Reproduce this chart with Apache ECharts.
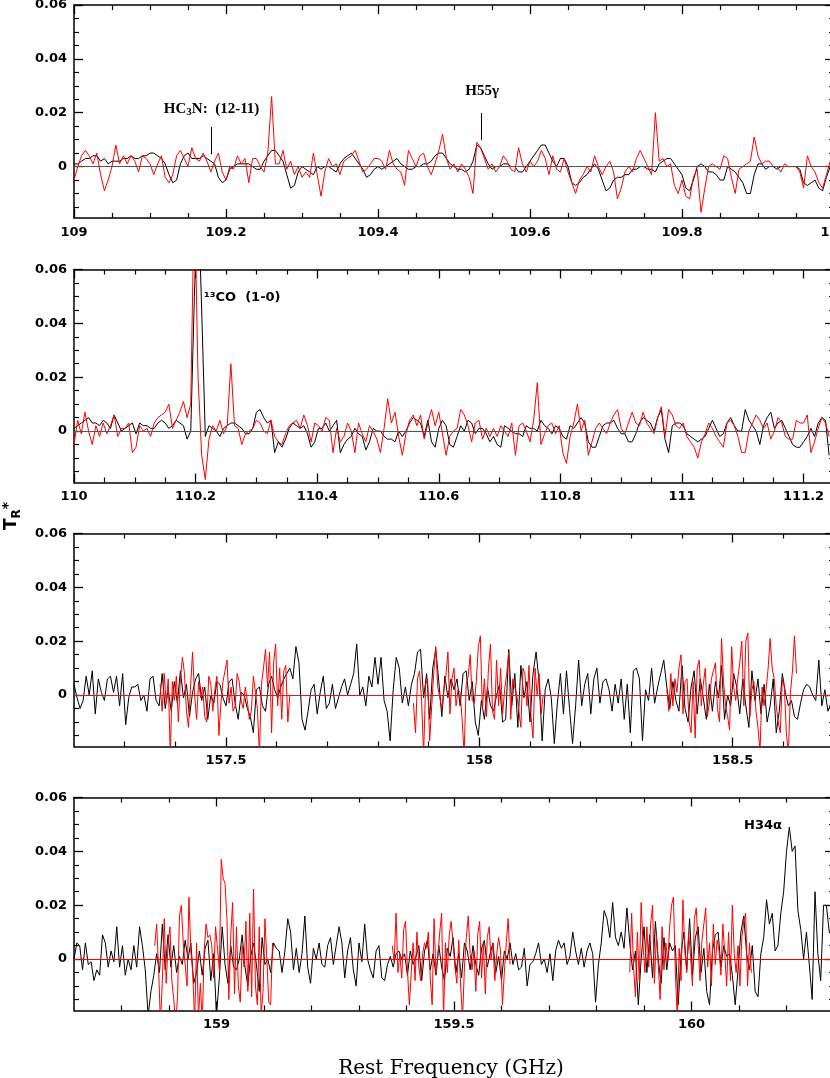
<!DOCTYPE html>
<html><head><meta charset="utf-8">
<script src="https://cdn.jsdelivr.net/npm/echarts@6.0.0/dist/echarts.min.js"></script>
<style>html,body{margin:0;padding:0;background:#fff}#c{width:830px;height:1078px}</style>
</head><body><div id="c"></div>
<script>
// ---- data (T_R* in mK; axis labels shown in K) ----
const p1Start = 109.0, p1Step = 0.005;
const p1Black = [1,1,2,3,3,4,4,2,3,1, 2,2,2,3,3,4,3,3,4,4, 5,5,4,3,1,-3,-6,-5,1,4, 5,3,3,3,4,3,2,1,-4,-6,
 -5,-1,0,1,1,1,1,0,-1,-1, 2,4,6,6,4,2,-3,-8,-7,-2, 0,-1,-2,-3,0,-1,0,0,-1,-2, 1,3,4,5,3,1,-1,-4,-3,-1,
 0,-1,0,1,2,3,1,0,-1,-1, 0,0,1,1,2,4,5,5,3,1, 0,-1,-1,-2,-1,2,8,7,4,1, -1,0,0,1,1,0,0,-2,-2,0,
 2,4,6,8,8,5,2,0,3,3, 0,-6,-7,-6,-4,-3,-1,1,-1,-5, -9,-8,-5,-4,-4,-3,-3,-1,-1,0, 0,-1,-1,-2,1,2,3,3,1,-1,
 -3,-8,-9,-5,0,1,0,-2,-2,-3, -5,-5,0,-1,-2,-4,-6,-10,-10,-3, 1,1,-1,0,0,-1,0,0,0,0, 0,-1,-6,-7,-6,-5,-8,-9,-4,0, 1];
const p1Red = [-5,0,4,6,4,1,5,-3,-9,-5, 0,8,1,4,1,4,2,-2,4,3, 1,-3,1,4,-4,-6,-3,4,6,3, 0,7,3,2,5,2,-2,2,5,-2,
 -5,0,-1,4,1,3,-6,3,3,0, -2,5,26,1,1,6,-1,2,-3,0, -4,-2,-4,5,-3,-11,-2,3,0,1, -3,2,3,4,6,2,-2,-1,1,3,
 3,2,-1,6,1,-1,-2,-7,6,3, 0,4,5,0,-3,1,6,12,3,-1, 1,-2,1,-1,-4,-10,9,7,3,-1, 1,-2,0,4,2,-1,-2,7,1,-2,
 2,0,2,6,3,-3,4,-1,-2,3, -2,-6,-10,-5,-3,0,-2,4,0,-3, 0,2,-2,-12,-8,-2,0,-2,3,6, 3,0,-3,20,2,3,0,1,-7,-10,
 -5,-11,-12,-4,-1,-17,-8,0,1,0, -1,4,3,-4,-10,-1,0,1,2,11, 4,1,2,2,0,0,-2,1,0,0, 0,-2,-8,4,0,-2,-6,-8,-3,2, 2];

const p2Start = 110.0, p2Step = 0.006;
const p2Black = [1,2,3,4,5,3,3,2,4,3, 1,6,3,0,1,2,3,-1,3,2, 2,1,1,3,4,3,1,2,4,3, 2,-3,0,50,90,45,-2,2,1,0,
 -2,1,2,3,3,2,1,-1,-1,1, 7,8,5,3,4,-8,-4,-6,-3,1, 3,2,1,2,-1,-6,-4,1,1,3, 0,2,4,-8,-5,-3,-2,1,-1,-2,
 -7,-4,1,0,0,-2,-3,-3,-4,0, -2,0,3,5,4,3,-2,4,-4,-6, 1,4,2,-5,-6,-2,2,0,4,3, -1,1,1,-1,-4,-2,-5,-6,2,1,
 0,-1,-1,-2,2,1,1,0,4,2, 1,-1,2,1,-2,-3,2,1,3,5, 3,-4,-6,-6,-2,2,3,3,4,1, -1,-1,-4,-4,-1,3,5,4,3,0,
 5,8,-3,-8,2,3,3,2,-1,-2, -3,-4,-3,-2,1,4,1,-2,-1,3, 5,2,0,0,8,4,2,0,-5,2, 5,7,1,3,4,1,-2,-5,-6,-6,
 -4,-2,1,-2,3,5,4,-9];
const p2Red = [-5,4,-1,7,0,-5,2,-2,3,-1, 2,6,-2,1,1,3,-8,-6,2,0, 1,-2,3,5,6,7,10,1,4,7, 11,5,10,90,20,-9,-18,-3,2,0,
 4,-1,2,25,2,1,-5,-1,0,1, 4,3,0,-1,4,-2,-4,-5,-1,2, 3,4,1,6,2,-4,3,2,0,5, 4,-8,1,-4,-2,3,0,-8,3,-1,
 -4,2,0,-3,-8,1,12,3,7,-2, -9,-1,4,6,2,6,-3,3,8,2, 7,-1,-9,-2,0,1,8,6,2,-4, 3,4,-3,1,-2,1,-2,2,0,-2,
 3,-9,2,3,0,-4,4,18,-5,-1, 2,3,-1,2,-8,-12,-2,3,10,0, 4,-9,-4,1,3,1,-1,3,6,8, 1,-1,3,7,3,2,7,3,1,-1,
 5,9,-2,8,6,2,1,3,-2,-4, -6,-10,-4,-1,3,1,-2,-4,-6,3, 4,2,-2,-8,-8,0,3,6,4,1, 3,-3,0,5,3,-2,-3,-3,4,3,
 3,6,-8,-4,1,5,3,-2];

const p3Start = 157.2, p3Step = 0.006;
const p3Black = [4,-1,-5,-2,7,0,9,-7,6,1, -2,6,7,1,7,-4,8,-11,-1,3, 3,4,-2,0,-6,6,7,-2,-4,8, -5,2,-6,5,-3,9,-1,4,-8,1,
 6,8,-2,3,-9,0,-3,5,4,-1, -4,5,6,-3,-9,1,0,-5,-8,-14, 2,3,-4,-6,4,7,2,-1,3,6, 8,10,6,18,12,-9,-13,-6,2,4,
 -7,1,7,-5,-3,4,-5,-1,3,6, 0,4,8,19,0,3,-4,7,3,14, 4,14,-2,-6,-17,2,14,10,-3,3, -4,4,8,16,17,-1,8,-9,10,17,
 5,-8,7,-1,6,2,6,-4,8,9, -2,5,-10,-15,-2,-9,3,-4,-6,0, 4,-10,-9,17,-4,8,-12,11,-1,5, -10,8,16,5,-17,2,6,-1,-18,-3,
 8,-7,9,-5,-18,-4,13,-4,4,8, -7,6,10,-3,5,6,2,-6,4,-3, 6,-9,4,-14,9,10,6,-17,2,-2, 10,-3,3,8,13,3,-5,5,-2,-6,
 11,-5,-10,3,9,-7,6,-1,-9,4, -6,5,-1,11,-9,0,-4,8,3,-7, 6,-4,-12,9,-2,6,-7,4,-10,-4, 6,-14,-6,8,1,-4,-2,-8,-9,-3,
 2,4,3,0,-2,13,-4,2,-6,-3];
const p3RedStarts = [157.37, 157.87, 158.37], p3RedStep = 0.004;
const p3RedA = [4,-6,8,-3,6,-22,5,-2,7,-10, 6,14,8,-6,-12,3,16,0,-9,5, -1,3,-8,-10,7,4,-6,2,7,-15,
 -3,5,9,13,-3,3,-6,-4,8,5, -2,-5,3,-2,-9,-6,7,1,-5,-22, 4,10,17,3,16,-14,12,19,-4,10, -9,9,11,-10,0];
const p3RedB = [-3,-14,6,9,-2,-22,4,6,-17,-4, 8,18,3,-1,-5,2,7,16,-7,6, 10,-4,2,1,-9,-22,4,7,15,-2,
 -3,5,18,22,-5,6,-8,10,19,-6, -9,13,-4,10,-7,2,8,16,-9,6, 3,0,-6,-12,10,8,-4,11,-8,-16, 10,0,8,-7,0];
const p3RedC = [2,-6,8,-4,6,1,10,15,-7,5, 6,-10,-14,5,-16,10,13,-4,4,10, -8,-3,6,9,12,-5,-10,21,5,-4,
 -8,-13,18,3,-2,6,12,20,-4,20, 23,-8,2,5,-6,-12,-21,3,-4,2, 10,21,10,6,-4,-10,-14,6,3,-14, -22,1,9,22,8];

const p4Start = 158.7, p4Step = 0.006;
const p4Black = [0,6,5,-4,6,-2,-1,-8,-4,-6, 9,6,-3,3,-1,12,-3,5,-6,0, -4,5,-3,12,5,-4,-21,-12,-6,2, -5,13,-4,9,-3,5,-5,1,-2,7,
 0,6,-9,-5,3,-6,4,7,-8,2, -21,-7,12,-2,-9,5,-3,-4,0,9, -3,-10,1,6,-2,-12,8,-2,0,-5, 6,4,3,-5,3,15,10,-4,4,-5,
 2,16,-3,-9,4,0,6,-2,-3,5, 8,-2,5,12,6,-7,3,8,-4,-10, 6,-1,13,0,-4,-7,3,5,-7,-8, -2,1,-3,2,3,0,2,-6,3,-2,
 1,5,-8,3,7,-4,2,-6,5,-3, -8,4,1,8,-5,2,-7,6,3,-4, 5,-2,-6,4,7,-3,2,6,-5,1, -8,3,0,6,-2,2,-4,-3,4,-10,
 -2,-1,2,6,-2,0,-5,2,-8,3, 7,4,6,-2,1,10,3,-2,4,-3, 3,6,2,-16,-2,6,18,15,8,21, 8,5,10,4,19,6,-4,3,-17,0,
 12,-5,9,-7,14,0,-9,8,-4,6, 3,5,-17,2,10,-4,15,-6,8,12, -5,4,-12,-17,3,9,10,-3,5,1, 2,-6,-17,-4,10,16,2,-4,5,-12,
 -14,2,8,22,13,17,3,5,17,25, 40,49,40,42,18,11,0,10,-2,-15, 25,2,-8,20,20,10];
const p4RedStarts = [158.87, 159.37, 159.87], p4RedStep = 0.004;
const p4RedA = [5,13,-3,-24,-8,15,-9,5,12,-8, -15,-24,-14,16,20,6,-2,-10,23,3, -5,-24,6,-22,-9,-24,3,13,8,9,
 5,-7,12,12,-4,37,30,28,15,-15, 9,21,-13,12,-10,-16,5,-3,14,-12, 17,-14,26,-10,-17,12,-21,-12,15,0, -16,-17,6];
const p4RedB = [5,-1,17,-5,2,-7,11,14,-4,-17, -5,6,-8,10,-3,-8,2,6,4,10, -7,-17,15,-5,1,10,17,-22,6,-5,
 9,14,6,-3,-9,7,-10,-22,-3,8, 16,2,-4,3,-12,9,14,-7,6,-13, 8,12,0,6,-8,2,8,3,-17,-5, 6,15,-2];
const p4RedC = [-5,17,-3,-14,10,-8,21,5,-5,12, -3,13,20,-9,9,-2,-15,12,-4,6, -1,12,20,23,-5,-22,4,-8,22,3,
 -5,10,1,-10,15,19,5,-8,7,13, 19,-3,6,-10,13,-2,7,3,-6,13, 2,-10,10,-8,20,2,-5,5,-10,8, 14,17,-10,6,-5];

// ---- axes / ticks ----
const xRanges = [[109, 110], [110, 111.25], [157.2, 158.7], [158.7, 160.3]];
const xMajorTicks = [[109,109.2,109.4,109.6,109.8,110],[110,110.2,110.4,110.6,110.8,111,111.2],[157.5,158,158.5],[159,159.5,160]];
const xTickLabels = [['109','109.2','109.4','109.6','109.8','110'],['110','110.2','110.4','110.6','110.8','111','111.2'],['157.5','158','158.5'],['159','159.5','160']];
const xMinorTicks = [
 [109.05,109.1,109.15,109.25,109.3,109.35,109.45,109.5,109.55,109.65,109.7,109.75,109.85,109.9,109.95],
 [110.05,110.1,110.15,110.25,110.3,110.35,110.45,110.5,110.55,110.65,110.7,110.75,110.85,110.9,110.95,111.05,111.1,111.15],
 [157.3,157.4,157.6,157.7,157.8,157.9,158.1,158.2,158.3,158.4,158.6],
 [158.8,158.9,159.1,159.2,159.3,159.4,159.6,159.7,159.8,159.9,160.1,160.2]];
const yRange = [-19.1, 60];
const yMajorTicks = [0, 20, 40, 60];
const yTickLabels = ['0', '0.02', '0.04', '0.06'];
const yMinorTicks = [-15,-10,-5,5,10,15,25,30,35,45,50,55];

const annotations = [
  {grid: 0, x: 109.181, y: 21.4, kind: 'hc3n'},
  {grid: 0, x: 109.537, y: 27.9, text: 'H55\u03b3', font: 'serif'},
  {grid: 1, x: 110.214, y: 49.5, text: '\u00b9\u00b3CO  (1-0)', font: 'sans', left: true},
  {grid: 3, x: 160.1505, y: 49.7, text: 'H34\u03b1', font: 'sans'}
];
const lineMarkers = [[109.1803, 4.6, 14.7], [109.5355, 9.8, 19.9]];

// ---- layout ----
const gridTops = [5, 269.5, 533.5, 797.5];
const GRID_H = 213, GRID_L = 74, GRID_W = 760;

function pairs(start, step, vals) {
  return vals.map((v, i) => [Math.round((start + i * step) * 1e6) / 1e6, v]);
}
function lookup(list, labels, v) {
  for (let i = 0; i < list.length; i++) if (Math.abs(list[i] - v) < 1e-6) return labels[i];
  return '';
}
const labelFont = {color: '#000', fontFamily: 'DejaVu Sans', fontWeight: 'bold', fontSize: 13};

const grids = [], xAxes = [], yAxes = [], series = [];
for (let g = 0; g < 4; g++) {
  grids.push({left: GRID_L, top: gridTops[g], width: GRID_W, height: GRID_H, containLabel: false, outerBoundsMode: 'none'});
  const xb = {gridIndex: g, type: 'value', min: xRanges[g][0], max: xRanges[g][1], splitLine: {show: false}, axisPointer: {show: false}};
  const maj = xMajorTicks[g], mnr = xMinorTicks[g], lab = xTickLabels[g];
  ['bottom', 'top'].forEach(pos => {
    xAxes.push(Object.assign({}, xb, {position: pos,
      axisLine: {show: true, onZero: false, lineStyle: {color: '#000', width: 1.5}},
      axisTick: {show: true, inside: true, length: 9, customValues: maj, lineStyle: {color: '#000', width: 1.3}},
      axisLabel: pos === 'bottom' ? Object.assign({show: true, customValues: maj, margin: 8, formatter: v => lookup(maj, lab, v)}, labelFont) : {show: false}}));
    xAxes.push(Object.assign({}, xb, {position: pos,
      axisLine: {show: false, onZero: false},
      axisTick: {show: true, inside: true, length: 5, customValues: mnr, lineStyle: {color: '#000', width: 1.2}},
      axisLabel: {show: false}}));
  });
  const yb = {gridIndex: g, type: 'value', min: yRange[0], max: yRange[1], splitLine: {show: false}, axisPointer: {show: false}};
  ['left', 'right'].forEach(pos => {
    yAxes.push(Object.assign({}, yb, {position: pos,
      axisLine: {show: true, onZero: false, lineStyle: {color: '#000', width: 1.5}},
      axisTick: {show: true, inside: true, length: 9, customValues: yMajorTicks, lineStyle: {color: '#000', width: 1.3}},
      axisLabel: pos === 'left' ? Object.assign({show: true, customValues: yMajorTicks, margin: 7, formatter: v => lookup(yMajorTicks, yTickLabels, v)}, labelFont) : {show: false}}));
    yAxes.push(Object.assign({}, yb, {position: pos,
      axisLine: {show: false, onZero: false},
      axisTick: {show: true, inside: true, length: 5, customValues: yMinorTicks, lineStyle: {color: '#000', width: 1.2}},
      axisLabel: {show: false}}));
  });
}

function lineSeries(g, data, color, z, extra) {
  return Object.assign({type: 'line', xAxisIndex: 4 * g, yAxisIndex: 4 * g, data: data, symbol: 'none', showSymbol: false,
    clip: true, silent: true, animation: false, z: z,
    lineStyle: {color: color, width: 1}, itemStyle: {color: color}}, extra || {});
}
function zeroLine(color) {
  return {markLine: {silent: true, animation: false, symbol: ['none', 'none'], label: {show: false},
    lineStyle: {color: color, width: 1, type: 'solid'}, data: [{yAxis: 0}]}};
}

const BLACK = '#000000', RED = '#ff0000';
series.push(lineSeries(0, pairs(p1Start, p1Step, p1Black), BLACK, 2, zeroLine('#555555')));
series.push(lineSeries(0, pairs(p1Start, p1Step, p1Red), RED, 3, {markLine: {silent: true, animation: false, symbol: ['none', 'none'], label: {show: false},
  lineStyle: {color: '#000', width: 1, type: 'solid'},
  data: lineMarkers.map(m => [{coord: [m[0], m[1]]}, {coord: [m[0], m[2]]}])}}));
series.push(lineSeries(1, pairs(p2Start, p2Step, p2Black), BLACK, 2, zeroLine('#555555')));
series.push(lineSeries(1, pairs(p2Start, p2Step, p2Red), RED, 3));
series.push(lineSeries(2, pairs(p3Start, p3Step, p3Black), BLACK, 2));
[p3RedA, p3RedB, p3RedC].forEach((seg, k) => series.push(lineSeries(2, pairs(p3RedStarts[k], p3RedStep, seg), RED, 3, k === 0 ? zeroLine('#c02828') : {})));
series.push(lineSeries(3, pairs(p4Start, p4Step, p4Black), BLACK, 2));
[p4RedA, p4RedB, p4RedC].forEach((seg, k) => series.push(lineSeries(3, pairs(p4RedStarts[k], p4RedStep, seg), RED, 3, k === 0 ? zeroLine('#ff0000') : {})));

const chart = echarts.init(document.getElementById('c'), null, {renderer: 'canvas'});
chart.setOption({
  animation: false,
  backgroundColor: '#ffffff',
  grid: grids, xAxis: xAxes, yAxis: yAxes, series: series
});

const graphics = [
  {type: 'text', x: 451, y: 1069, style: {text: 'Rest Frequency (GHz)', fill: '#000', font: '20px "DejaVu Serif"', align: 'center', verticalAlign: 'middle'}},
  {type: 'text', x: 12, y: 516, rotation: Math.PI / 2, style: {text: '{t|T}{r|R}{p|*}', align: 'center', verticalAlign: 'middle',
    rich: {t: {fontSize: 17, fontWeight: 'bold', fontFamily: 'DejaVu Sans', fill: '#000', lineHeight: 22},
           r: {fontSize: 12, fontWeight: 'bold', fontFamily: 'DejaVu Sans', fill: '#000', lineHeight: 12, verticalAlign: 'bottom'},
           p: {fontSize: 14, fontWeight: 'bold', fontFamily: 'DejaVu Sans', fill: '#000', lineHeight: 12, verticalAlign: 'top'}}}}
];
annotations.forEach(a => {
  const p = chart.convertToPixel({xAxisIndex: 4 * a.grid, yAxisIndex: 4 * a.grid}, [a.x, a.y]);
  if (a.kind === 'hc3n') {
    graphics.push({type: 'text', x: p[0], y: p[1], style: {text: '{a|HC}{s|3}{a|N:  (12-11)}', align: 'center', verticalAlign: 'middle',
      rich: {a: {fontSize: 15, fontWeight: 'bold', fontFamily: 'Liberation Serif', fill: '#000', lineHeight: 18},
             s: {fontSize: 11, fontWeight: 'bold', fontFamily: 'Liberation Serif', fill: '#000', lineHeight: 10, verticalAlign: 'bottom'}}}});
  } else {
    const f = a.font === 'serif' ? 'bold 15px "Liberation Serif"' : 'bold 13px "DejaVu Sans"';
    graphics.push({type: 'text', x: p[0], y: p[1], style: {text: a.text, fill: '#000', font: f, align: a.left ? 'left' : 'center', verticalAlign: 'middle'}});
  }
});
chart.setOption({graphic: graphics});
</script></body></html>
